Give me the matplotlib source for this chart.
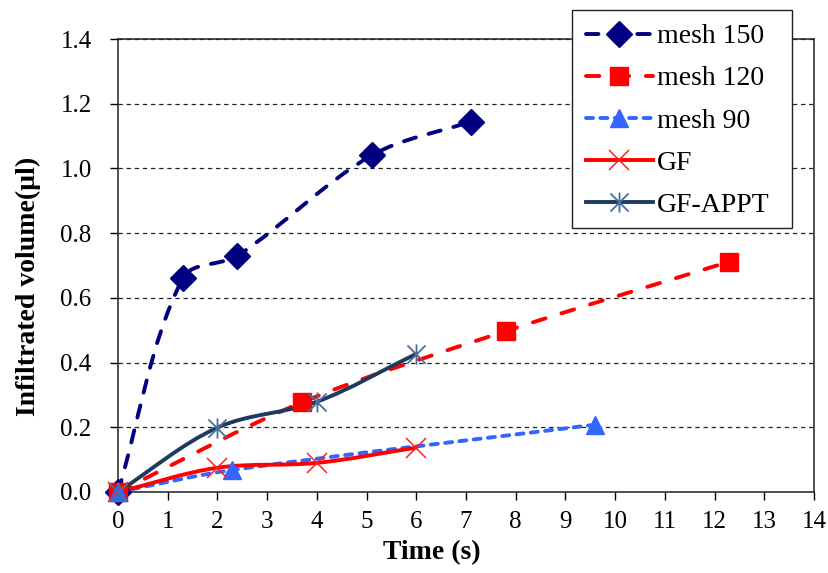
import numpy as np
import matplotlib
matplotlib.use("Agg")
import matplotlib.pyplot as plt
from matplotlib.path import Path
from matplotlib.patches import PathPatch, Rectangle
from matplotlib.lines import Line2D

plt.rcParams['font.family'] = ['Liberation Serif', 'DejaVu Serif']

# ---- data ----
mesh150_x = [0, 1.3, 2.4, 5.1, 7.1]
mesh150_y = [0, 0.66, 0.73, 1.04, 1.145]
mesh120_x = [0, 3.7, 7.8, 12.3]
mesh120_y = [0, 0.277, 0.497, 0.712]
mesh90_x = [0, 2.3, 9.6]
mesh90_y = [0, 0.068, 0.208]
gf_x = [0, 2, 4, 6]
gf_y = [0, 0.075, 0.09, 0.137]
appt_x = [0, 2, 4, 6]
appt_y = [0, 0.199, 0.279, 0.427]

labels = ["mesh 150", "mesh 120", "mesh 90", "GF", "GF-APPT"]
x_ticks = list(range(0, 15))
y_ticks = [0.0, 0.2, 0.4, 0.6, 0.8, 1.0, 1.2, 1.4]

W, H = 829, 573
fig = plt.figure(figsize=(W / 100, H / 100), dpi=100)
ax = fig.add_axes([118 / W, 1 - 492 / H, (814 - 118) / W, (492 - 39) / H])
ax.set_xlim(0, 14)
ax.set_ylim(0, 1.4)


def smooth_path(x, y):
    """Smoothed curve through the data points (Bezier, computed in display space)."""
    pts = ax.transData.transform(np.column_stack([x, y]).astype(float))
    n = len(pts)
    tang = []
    for i in range(n):
        a = pts[max(i - 1, 0)]
        b = pts[min(i + 1, n - 1)]
        d = b - a
        tang.append(d / np.hypot(*d))
    verts = [pts[0]]
    codes = [Path.MOVETO]
    for i in range(n - 1):
        p1, p2 = pts[i], pts[i + 1]
        L = np.hypot(*(p2 - p1))
        c1 = p1 + tang[i] * L / 3.0
        c2 = p2 - tang[i + 1] * L / 3.0
        verts += [c1, c2, p2]
        codes += [Path.CURVE4] * 3
    verts = ax.transData.inverted().transform(np.array(verts))
    return Path(verts, codes)


star = Path([(-0.9, -0.9), (0.9, 0.9), (-0.9, 0.9), (0.9, -0.9), (0, -1.0), (0, 1.0)],
            [Path.MOVETO, Path.LINETO, Path.MOVETO, Path.LINETO, Path.MOVETO, Path.LINETO])

series = [
    dict(x=mesh150_x, y=mesh150_y, color='#000080', lw=2.8, ls=(0, (3.2, 3.4)),
         marker='D', ms=13, mfc='#000080', mec='#000080', mew=1),
    dict(x=mesh120_x, y=mesh120_y, color='#FF0000', lw=2.8, ls=(0, (3.4, 4.3)),
         marker='s', ms=12.5, mfc='#FF0000', mec='#FF0000', mew=1),
    dict(x=mesh90_x, y=mesh90_y, color='#3366FF', lw=2.8, ls=(0, (1.8, 1.9)),
         marker='^', ms=13, mfc='#3366FF', mec='#3366FF', mew=1),
    dict(x=gf_x, y=gf_y, color='#FF0000', lw=2.8, ls='-',
         marker='x', ms=14, mfc='none', mec='#FF2020', mew=1.1),
    dict(x=appt_x, y=appt_y, color='#1F3A5F', lw=2.8, ls='-',
         marker=star, ms=14.5, mfc='none', mec='#4A6E9C', mew=1.3),
]

handles = []
for s in series:
    patch = PathPatch(smooth_path(s['x'], s['y']), fill=False, edgecolor=s['color'],
                      lw=s['lw'], linestyle=s['ls'], capstyle='round',
                      joinstyle='round', zorder=3)
    ax.add_patch(patch)
    ax.plot(s['x'], s['y'], linestyle='none', marker=s['marker'], ms=s['ms'],
            mfc=s['mfc'], mec=s['mec'], mew=s['mew'], zorder=4, clip_on=False)
    handles.append(Line2D([], [], color=s['color'], lw=s['lw'], ls=s['ls'],
                          marker=s['marker'], ms=s['ms'], mfc=s['mfc'],
                          mec=s['mec'], mew=s['mew'], dash_capstyle='round'))

ax.set_xticks(x_ticks)
ax.set_xticklabels([str(t) for t in x_ticks])
ax.set_yticks(y_ticks)
ax.set_yticklabels([f"{t:.1f}" for t in y_ticks])
ax.tick_params(axis='both', direction='out', length=6, width=1, labelsize=18,
               colors='black')
ax.tick_params(axis='x', pad=8)
ax.tick_params(axis='y', pad=13)
ax.yaxis.grid(True, linestyle=(0, (3.5, 3)), color='#222222', lw=0.9)
ax.set_axisbelow(True)
for sp in ax.spines.values():
    sp.set_color('#222222')
    sp.set_linewidth(1.1)

fig.text(432 / W, 1 - 553 / H, "Time (s)", fontsize=20, fontweight='bold',
         ha='center', va='center')
fig.text(28 / W, 1 - 286 / H, "Infiltrated volume(µl)", fontsize=20,
         fontweight='bold', rotation=90, ha='center', va='center')

# legend frame box
frame = Rectangle((572 / W, 1 - 228 / H), (792 - 572) / W, (228 - 10) / H,
                  transform=fig.transFigure, facecolor='white', edgecolor='#222222',
                  lw=1.0, zorder=9)
fig.add_artist(frame)

leg = fig.legend(handles, labels, loc='upper left',
                 bbox_to_anchor=(572 / W, 1 - 10 / H), fontsize=20,
                 frameon=False, handlelength=2.4, labelspacing=0.6,
                 borderpad=0.5, handletextpad=0.15, borderaxespad=0)
leg.set_zorder(10)

fig.savefig("out.png", dpi=100)
